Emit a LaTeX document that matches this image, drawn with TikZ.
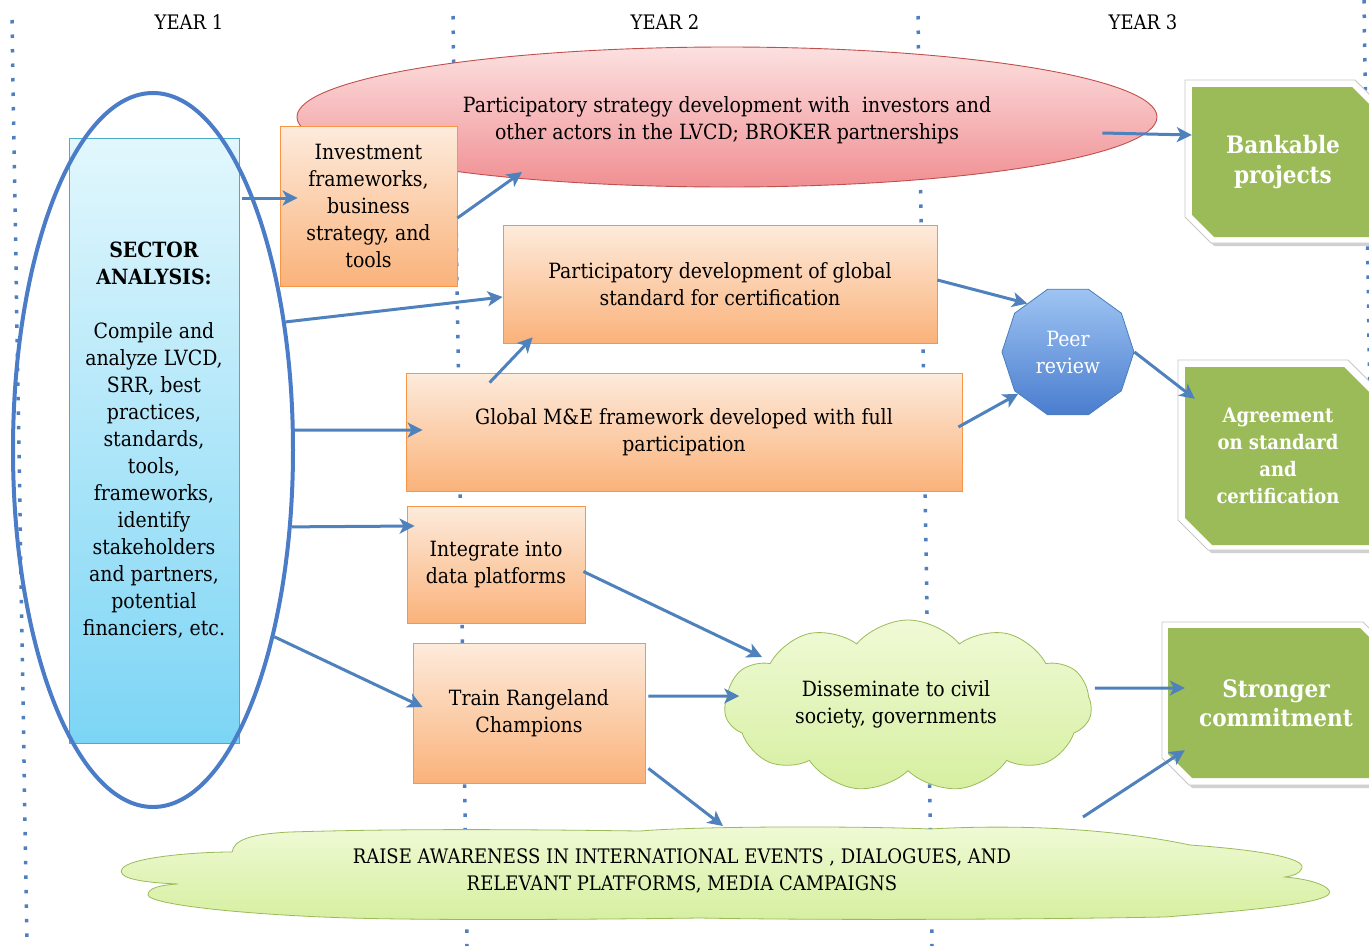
\documentclass[tikz,border=0pt]{standalone}
\usepackage{fontspec}
\setmainfont{DejaVu Serif}[FakeStretch=0.9]
\usetikzlibrary{shapes.geometric,shapes.misc,shapes.symbols,arrows.meta,calc}
\definecolor{arrowblue}{HTML}{4F81BD}
\definecolor{dotblue}{HTML}{4F7FBF}
\definecolor{orangeD}{HTML}{F79646}
\definecolor{orangeT}{HTML}{FDEBDC}
\definecolor{orangeB}{HTML}{FAB27A}
\definecolor{cyanT}{HTML}{E2F7FD}
\definecolor{cyanB}{HTML}{7CD5F5}
\definecolor{cyanD}{HTML}{4BACC6}
\definecolor{redT}{HTML}{FCE0E0}
\definecolor{redB}{HTML}{F08F93}
\definecolor{redD}{HTML}{C0504D}
\definecolor{peerT}{HTML}{9EC4F2}
\definecolor{peerB}{HTML}{4A7DCF}
\definecolor{peerD}{HTML}{4A7EBB}
\definecolor{greenF}{HTML}{9BBB59}
\definecolor{cloudT}{HTML}{F0FAD6}
\definecolor{cloudB}{HTML}{D6EFA0}
\definecolor{ellblue}{HTML}{4A7CC8}
\begin{document}
\begin{tikzpicture}[x=1pt,y=-1pt,
  every node/.style={font=\fontsize{21}{27}\selectfont, inner sep=0pt},
  dotline/.style={draw=dotblue, line width=3.5, dash pattern=on 3.5 off 11},
  obox/.style={rectangle, draw=orangeD, line width=0.8, top color=orangeT, bottom color=orangeB, align=center},
  arr/.style={draw=arrowblue, line width=3, -{Stealth[length=15,width=15,inset=4]}},
  gshadow/.style={fill=black, opacity=0.18},
  gouter/.style={fill=white, draw=black!22, line width=0.8},
  ginner/.style={fill=greenF},
  gtext/.style={rectangle, text=white, align=center},
  gcloud/.style={draw=greenF, line width=0.8, top color=cloudT, bottom color=cloudB},
  yearlbl/.style={font=\fontsize{20}{22}\selectfont}
]
\useasboundingbox (0,0) rectangle (1369,948);

% dotted year separators
\draw[dotline] (12,20) -- (27,946);
\draw[dotline] (453,16) -- (467,946);
\draw[dotline] (918,16) -- (932,946);
\draw[dotline] (1364,0) -- (1378,948);

% year labels
\node[yearlbl] (y1) at (189,22) {YEAR 1};
\node[yearlbl] (y2) at (665,22) {YEAR 2};
\node[yearlbl] (y3) at (1143,22) {YEAR 3};

% red ellipse
\node[ellipse, draw=redD, line width=0.9, top color=redT, bottom color=redB, minimum width=860, minimum height=140] (red) at (727,117) {};
\node[align=center] (redtxt) at (727,120)
  {Participatory strategy development with \ investors and\\other actors in the LVCD; BROKER partnerships};

% sector analysis
\node[rectangle, draw=cyanD, line width=0.8, top color=cyanT, bottom color=cyanB, minimum width=170, minimum height=605, align=center] (sa) at (154,440.5)
  {\textbf{SECTOR}\\\textbf{ANALYSIS:}\\[27pt]Compile and\\analyze LVCD,\\SRR, best\\practices,\\standards,\\tools,\\frameworks,\\identify\\stakeholders\\and partners,\\potential\\financiers, etc.};
\node[ellipse, draw=ellblue, line width=4, minimum width=280, minimum height=714] (ell) at (153,450) {};

% orange boxes
\node[obox, minimum width=177, minimum height=160] (inv) at (368.5,206)
  {Investment\\frameworks,\\business\\strategy, and\\tools};
\node[obox, minimum width=434, minimum height=118] (glob) at (720,284)
  {Participatory development of global\\standard for certification};
\node[obox, minimum width=556, minimum height=118] (me) at (684,432)
  {Global M\&E framework developed with full\\participation};
\node[obox, minimum width=178, minimum height=117] (integ) at (496,564.5)
  {Integrate into\\data platforms};
\node[obox, minimum width=232, minimum height=140] (train) at (529,713)
  {Train Rangeland\\Champions};

% peer review
\node[regular polygon, regular polygon sides=10, minimum size=132, draw=peerD, line width=0.8, top color=peerT, bottom color=peerB, text=white, align=center] (peer) at (1068,352)
  {Peer\\review};

% disseminate cloud
\node[cloud, cloud ignores aspect, gcloud, cloud puffs=11, cloud puff arc=100, minimum width=367, minimum height=172] (dis) at (908,706) {};
\node[align=center] (distxt) at (896,704)
  {Disseminate to civil\\society, governments};

% awareness cloud (drawn shape)
\path[gcloud] (122,869) .. controls (128,858) and (190,852) .. (232,852)
  .. controls (234,840) and (250,834) .. (290,832)
  .. controls (420,828) and (560,830) .. (640,831)
  .. controls (700,826) and (860,826) .. (930,829)
  .. controls (1000,825) and (1100,826) .. (1190,845)
  .. controls (1260,850) and (1305,858) .. (1302,868)
  .. controls (1300,874) and (1292,876) .. (1285,877)
  .. controls (1320,880) and (1335,890) .. (1328,895)
  .. controls (1315,905) and (1230,912) .. (1165,917)
  .. controls (1000,920) and (800,920) .. (700,918)
  .. controls (550,920) and (420,920) .. (350,918)
  .. controls (250,915) and (150,905) .. (148,895)
  .. controls (148,888) and (160,885) .. (178,884)
  .. controls (130,882) and (118,876) .. cycle;
\node[align=center, font=\fontsize{20}{27}\selectfont] (aw) at (682,871)
  {RAISE AWARENESS IN INTERNATIONAL EVENTS , DIALOGUES, AND\\RELEVANT PLATFORMS, MEDIA CAMPAIGNS};

% green outcome boxes (drawn shapes)
\fill[gshadow] (1188,83) -- (1358,83) -- (1384,109) -- (1384,246) -- (1214,246) -- (1188,220) -- cycle;
\path[gouter] (1185,80) -- (1355,80) -- (1381,106) -- (1381,243) -- (1211,243) -- (1185,217) -- cycle;
\path[ginner] (1192,87) -- (1352,87) -- (1374,109) -- (1374,237) -- (1214,237) -- (1192,215) -- cycle;
\node[gtext, minimum width=182, minimum height=150, font=\fontsize{24}{30}\selectfont\bfseries] (bank) at (1283,162)
  {Bankable\\projects};

\fill[gshadow] (1181,363) -- (1351,363) -- (1381,393) -- (1381,553) -- (1211,553) -- (1181,523) -- cycle;
\path[gouter] (1178,360) -- (1348,360) -- (1378,390) -- (1378,550) -- (1208,550) -- (1178,520) -- cycle;
\path[ginner] (1185,367) -- (1344,367) -- (1371,394) -- (1371,545) -- (1212,545) -- (1185,518) -- cycle;
\node[gtext, minimum width=186, minimum height=178, font=\fontsize{20}{27}\selectfont\bfseries] (agr) at (1278,456)
  {Agreement\\on standard\\and\\certification};

\fill[gshadow] (1165,625) -- (1366,625) -- (1393,652) -- (1393,788) -- (1192,788) -- (1165,761) -- cycle;
\path[gouter] (1162,622) -- (1363,622) -- (1390,649) -- (1390,785) -- (1189,785) -- (1162,758) -- cycle;
\path[ginner] (1168,628) -- (1360,628) -- (1384,652) -- (1384,778) -- (1192,778) -- (1168,754) -- cycle;
\node[gtext, minimum width=216, minimum height=150, font=\fontsize{24}{29}\selectfont\bfseries] (strong) at (1276,703)
  {Stronger\\commitment};

% connectors
\draw[arr] ($(ell.center)+(89,-252)$) -- ($(inv.west)+(18,-8)$);
\draw[arr] ($(inv.east)+(0,12)$) -- ($(red.center)+(-205,55)$);
\draw[arr] (ell.44) -- ($(glob.west)+(0,13)$);
\draw[arr] ($(me.north west)+(84,10)$) -- ($(glob.south west)+(30,-6)$);
\draw[arr] (ell.8) -- ($(me.west)+(17,-2)$);
\draw[arr] (ell.-29) -- ($(integ.west)+(8,-38.5)$);
\draw[arr] (ell.-57) -- ($(train.west)+(10,-6)$);
\draw[arr] ($(glob.east)+(0,-4)$) -- (peer.130);
\draw[arr] ($(me.east)+(-4,-5)$) -- (peer.220);
\draw[arr] (peer.east) -- ($(agr.north west)+(10,32)$);
\draw[arr] ($(red.east)+(-55,16)$) -- ($(bank.west)+(0,-27)$);
\draw[arr] ($(integ.east)+(-2,7)$) -- ($(dis.center)+(-146,-49)$);
\draw[arr] ($(train.east)+(3,-17)$) -- ($(dis.west)+(15,-10)$);
\draw[arr] ($(train.south east)+(3,-15)$) -- ($(aw.center)+(41,-45)$);
\draw[arr] ($(dis.east)+(3,-18)$) -- ($(strong.west)+(17,-15)$);
\draw[arr] ($(aw.center)+(401,-54)$) -- ($(strong.south west)+(17,-28)$);
\end{tikzpicture}
\end{document}
